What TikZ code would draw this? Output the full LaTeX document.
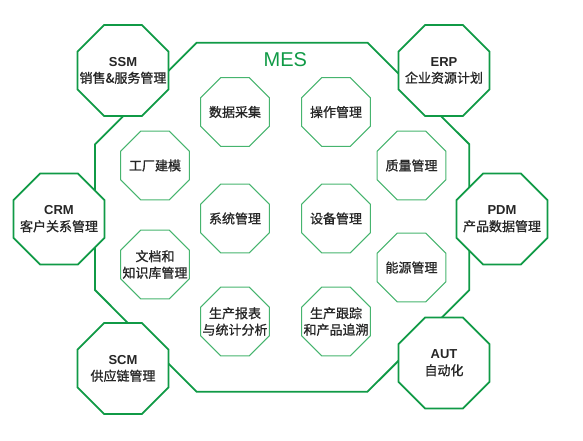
\documentclass[tikz,border=0pt]{standalone}
\usepackage{fontspec}
\setmainfont{Liberation Sans}
\newfontfamily\cjk[AutoFakeBold=1.0]{Noto Sans CJK SC}
\usetikzlibrary{shapes.geometric}
\definecolor{darkgrn}{RGB}{16,154,70}
\definecolor{litegrn}{RGB}{70,180,110}
\tikzset{
  outeroct/.style={shape=regular polygon, regular polygon sides=8,
    minimum size=98.5pt, inner sep=0pt, draw=darkgrn, line width=1.8pt, fill=white},
  inneroct/.style={shape=regular polygon, regular polygon sides=8,
    minimum size=74.4pt, inner sep=0pt, draw=litegrn, line width=1.1pt, fill=white},
  lbl/.style={align=center, font=\fontsize{13}{16.5}\selectfont\bfseries, text=black!85, inner sep=0pt},
}
\begin{document}
\begin{tikzpicture}[x=1pt,y=-1pt]
\useasboundingbox (0,0) rectangle (583,440);
% MES big octagon
\draw[darkgrn, line width=1.8pt] (196.6,42.7) -- (367.5,42.7) -- (469.3,144.3) -- (469.3,290) -- (367.5,391.7) -- (196.6,391.7) -- (95,290) -- (95,144.3) -- cycle;
\node[text=darkgrn, font=\fontsize{20}{21}\selectfont] (mes) at (285.4,60) {MES};
% outer octagons
\node[outeroct, label={[lbl]center:SSM\\{\cjk 销售\&服务管理}}] (ssm) at (123,70.5) {};
\node[outeroct, label={[lbl]center:ERP\\{\cjk 企业资源计划}}] (erp) at (444,70.5) {};
\node[outeroct, label={[lbl]center:CRM\\{\cjk 客户关系管理}}] (crm) at (59,219) {};
\node[outeroct, label={[lbl]center:PDM\\{\cjk 产品数据管理}}] (pdm) at (502,219) {};
\node[outeroct, label={[lbl]center:SCM\\{\cjk 供应链管理}}] (scm) at (123,368.5) {};
\node[outeroct, label={[lbl]center:AUT\\{\cjk 自动化}}] (aut) at (444,363) {};
% inner octagons
\node[inneroct, label={[lbl]center:{\cjk 数据采集}}] (sjcj) at (235,112) {};
\node[inneroct, label={[lbl]center:{\cjk 操作管理}}] (czgl) at (336,112) {};
\node[inneroct, label={[lbl]center:{\cjk 工厂建模}}] (gcjm) at (155,165.5) {};
\node[inneroct, label={[lbl]center:{\cjk 质量管理}}] (zlgl) at (411.5,165.5) {};
\node[inneroct, label={[lbl]center:{\cjk 系统管理}}] (xtgl) at (235,218.5) {};
\node[inneroct, label={[lbl]center:{\cjk 设备管理}}] (sbgl) at (336,218.5) {};
\node[inneroct, label={[lbl]center:{\cjk 文档和}\\{\cjk 知识库管理}}] (wdzs) at (155,264.5) {};
\node[inneroct, label={[lbl]center:{\cjk 能源管理}}] (nygl) at (411.5,267.5) {};
\node[inneroct, label={[lbl]center:{\cjk 生产报表}\\{\cjk 与统计分析}}] (scbb) at (235,321.5) {};
\node[inneroct, label={[lbl]center:{\cjk 生产跟踪}\\{\cjk 和产品追溯}}] (scgz) at (336,321.5) {};
\end{tikzpicture}
\end{document}
